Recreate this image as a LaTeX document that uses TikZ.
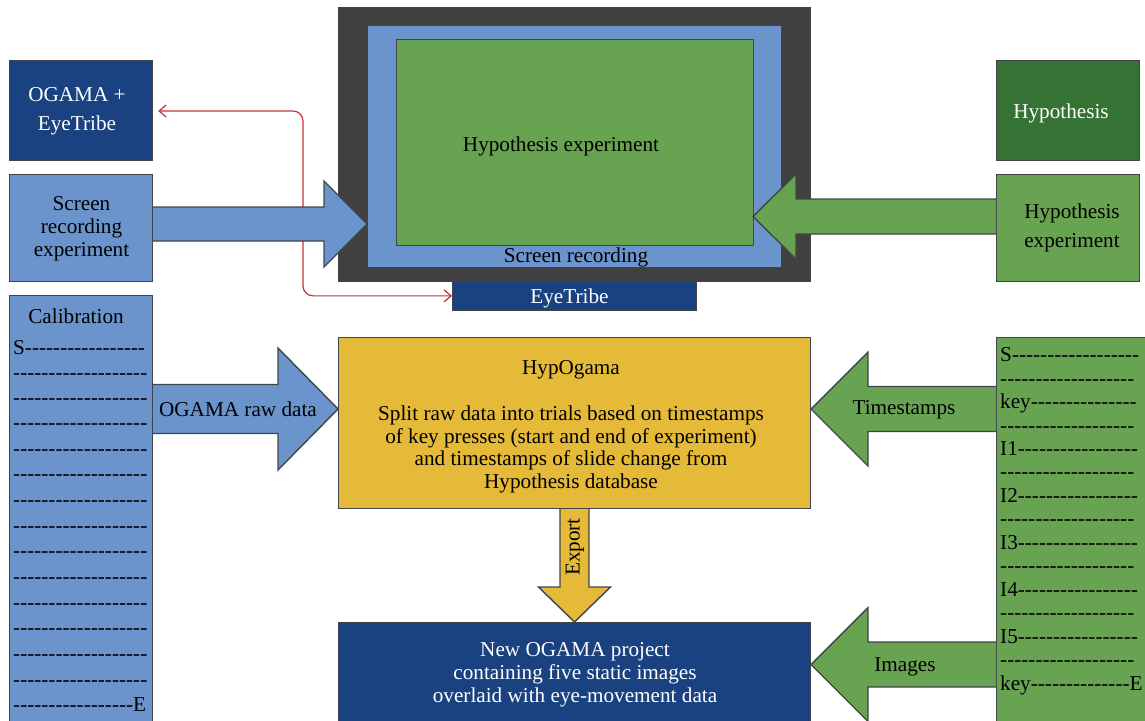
\documentclass[tikz,border=0pt]{standalone}
\usepackage{fontspec}
\setmainfont{Liberation Serif}
\newfontfamily\dashfont[Ligatures=NoCommon]{Liberation Serif}
\usetikzlibrary{calc,arrows.meta}
\definecolor{cblue}{HTML}{6C94CC}
\definecolor{dblue}{HTML}{1A4180}
\definecolor{cgreen}{HTML}{68A352}
\definecolor{dgreen}{HTML}{357234}
\definecolor{cyellow}{HTML}{E6BA39}
\definecolor{cgray}{HTML}{404040}
\definecolor{cred}{HTML}{C8303C}
\definecolor{edge}{HTML}{40454B}
\tikzset{
 boxn/.style={draw=edge,line width=1.2pt,inner sep=0pt},
 barrow/.style={draw=edge,line width=1.4pt},
 lab/.style={font=\fontsize{21.2}{29}\selectfont,text=black,align=center,inner sep=0pt},
 dashtext/.style={font=\dashfont\fontsize{21.2}{25.65}\selectfont,text=black,align=left,inner sep=0pt,anchor=north west},
}
% #1 start, #2 tip, #3 head length, #4 half shaft, #5 half head, #6 fill
\newcommand{\blockarrow}[6]{%
 \coordinate (bh) at ($(#2)!#3pt!(#1)$);
 \draw[barrow,fill=#6] ($(#1)!#4pt!90:(#2)$) -- ($(bh)!#4pt!-90:(#1)$) -- ($(bh)!#5pt!-90:(#1)$) -- (#2)
   -- ($(bh)!#5pt!90:(#1)$) -- ($(bh)!#4pt!90:(#1)$) -- ($(#1)!#4pt!-90:(#2)$);
}
\begin{document}
\begin{tikzpicture}[x=1pt,y=-1pt]
\useasboundingbox (0,0) rectangle (1145,720);
\begin{scope}
\clip (0,0) rectangle (1145,720);
% monitor
\node[boxn,fill=cgray,anchor=north west,minimum width=472pt,minimum height=273.5pt] (mon) at (338,7) {};
\node[boxn,fill=cblue,anchor=north west,minimum width=413.5pt,minimum height=241.5pt] (scr) at (367,25) {};
\node[boxn,fill=cgreen,anchor=north west,minimum width=357pt,minimum height=205.5pt] (hyx) at (395.5,39) {};
\node[lab] (hyxt) at (561,146.5) {Hypothesis experiment};
\node[lab] (srt) at (576,257.5) {Screen recording};
\node[boxn,fill=dblue,anchor=north west,minimum width=243.5pt,minimum height=28.5pt] (eye) at (452,281) {};
\node[lab,text=white] (eyet) at (569.5,298) {EyeTribe};
% left column
\node[boxn,fill=dblue,anchor=north west,minimum width=143pt,minimum height=100pt] (ogama) at (9,60) {};
\node[lab,text=white] (ogamat) at (77,111.5) {OGAMA +\\EyeTribe};
\node[boxn,fill=cblue,anchor=north west,minimum width=143pt,minimum height=106.5pt] (srec) at (9,174) {};
\node[lab,font=\fontsize{21.2}{23}\selectfont] (srect) at (81.5,228.5) {Screen\\recording\\experiment};
\node[boxn,fill=cblue,anchor=north west,minimum width=143pt,minimum height=440pt] (cal) at (9,295) {};
\node[lab] (calt) at (76,316) {Calibration};
\node[dashtext] (cald) at (13,340.5) {S-----------------\\[-1pt]
-------------------\\[-1pt]
-------------------\\
-------------------\\
-------------------\\
-------------------\\
-------------------\\
-------------------\\
-------------------\\
-------------------\\
-------------------\\
-------------------\\
-------------------\\
-------------------\\
-----------------E};
% right column
\node[boxn,fill=dgreen,anchor=north west,minimum width=143pt,minimum height=100pt] (hyp) at (996,60) {};
\node[lab,text=white] (hypt) at (1061,113) {Hypothesis};
\node[boxn,fill=cgreen,anchor=north west,minimum width=143pt,minimum height=106.5pt] (hex) at (996,174) {};
\node[lab] (hext) at (1072,228) {Hypothesis\\experiment};
\node[boxn,fill=cgreen,anchor=north west,minimum width=160pt,minimum height=400pt] (ts) at (996,337) {};
\node[dashtext,font=\dashfont\fontsize{21.2}{23.45}\selectfont] (tsd) at (1000,347.5) {S------------------\\
-------------------\\
key---------------\\
-------------------\\
I1-----------------\\
-------------------\\
I2-----------------\\
-------------------\\
I3-----------------\\
-------------------\\
I4-----------------\\
-------------------\\
I5-----------------\\
-------------------\\
key--------------E};
% centre
\node[boxn,fill=cyellow,anchor=north west,minimum width=471.5pt,minimum height=171pt] (hog) at (338,337) {};
\node[lab,font=\fontsize{21.2}{22.8}\selectfont] (hogt) at (571,369.5) {HypOgama};
\node[lab,font=\fontsize{21.2}{22.8}\selectfont] (hogb) at (571,449.5) {Split raw data into trials based on timestamps\\of key presses (start and end of experiment)\\and timestamps of slide change from\\Hypothesis database};
\node[boxn,fill=dblue,anchor=north west,minimum width=471.5pt,minimum height=130pt] (new) at (338,622) {};
\node[lab,text=white,font=\fontsize{21.2}{23}\selectfont] (newt) at (575,674.5) {New OGAMA project\\containing five static images\\overlaid with eye-movement data};
% red connector
\coordinate (rbend) at (303,111);
\draw[cred,line width=1.2pt,rounded corners=10pt,{Straight Barb[length=7pt,width=12pt]}-{Straight Barb[length=7pt,width=12pt]},shorten >=5pt] (eye.west) -| (rbend) -- (ogama.east |- rbend);
% block arrows
\coordinate (a1s) at (153,224); \coordinate (a1t) at (367,224);
\blockarrow{a1s}{a1t}{43}{17}{43}{cblue}
\coordinate (a2s) at (153,409); \coordinate (a2t) at (338,409);
\blockarrow{a2s}{a2t}{60}{24.5}{61}{cblue}
\node[lab] (a2l) at (238,409) {OGAMA raw data};
\coordinate (a3s) at (996,216.5); \coordinate (a3t) at (753,216.5);
\blockarrow{a3s}{a3t}{43}{17.5}{42.5}{cgreen}
\coordinate (a4s) at (996,409); \coordinate (a4t) at (811,409);
\blockarrow{a4s}{a4t}{57}{22.5}{57}{cgreen}
\node[lab] (a4l) at (904,410) {Timestamps};
\coordinate (a5s) at (996,664.5); \coordinate (a5t) at (811,664.5);
\blockarrow{a5s}{a5t}{57}{22.5}{57}{cgreen}
\node[lab] (a5l) at (905,667) {Images};
\coordinate (a6s) at (574.5,509); \coordinate (a6t) at (574.5,622);
\blockarrow{a6s}{a6t}{35}{14.5}{36}{cyellow}
\node[lab,rotate=90] (a6l) at (575,547) {Export};
\end{scope}
\end{tikzpicture}
\end{document}
